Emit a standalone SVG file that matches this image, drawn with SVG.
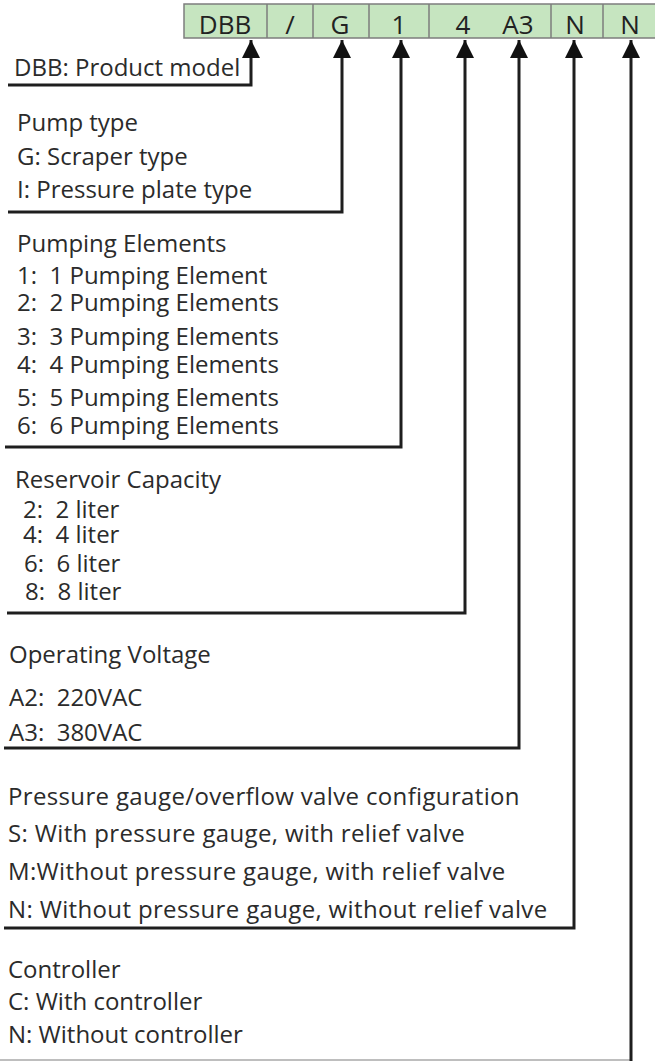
<svg xmlns="http://www.w3.org/2000/svg" width="655" height="1061" viewBox="0 0 655 1061">
<style>
.t{font-family:"Open Sans","Noto Sans","Liberation Sans",sans-serif;font-size:24px;fill:#2b2b2b}
.w{letter-spacing:0.35px}
.h{font-family:"Open Sans","Noto Sans","Liberation Sans",sans-serif;font-size:26px;fill:#222;text-anchor:middle}
.c{fill:none;stroke:#1e1e1e;stroke-width:3}
.cell{fill:#c6e5c0;stroke:#7d7d7d;stroke-width:1.5}
.dv{stroke:#7d7d7d;stroke-width:1.5}
</style>
<defs>
<marker id="ah" markerUnits="userSpaceOnUse" markerWidth="18" markerHeight="18" refX="16" refY="8" viewBox="0 0 16 16" orient="auto" overflow="visible">
<path d="M0,0 L16,8 L0,16 Z" fill="#111"/>
</marker>
</defs>
<g id="header">
<rect class="cell" x="184" y="4" width="480" height="34"/>
<line class="dv" x1="267" y1="4" x2="267" y2="38"/>
<line class="dv" x1="313" y1="4" x2="313" y2="38"/>
<line class="dv" x1="369" y1="4" x2="369" y2="38"/>
<line class="dv" x1="429" y1="4" x2="429" y2="38"/>
<line class="dv" x1="551" y1="4" x2="551" y2="38"/>
<line class="dv" x1="603" y1="4" x2="603" y2="38"/>
<text class="h" x="225" y="34">DBB</text>
<text class="h" x="290" y="34">/</text>
<text class="h" x="340" y="34">G</text>
<text class="h" x="399" y="34">1</text>
<text class="h" x="463" y="34">4</text>
<text class="h" x="518" y="34">A3</text>
<text class="h" x="575" y="34">N</text>
<text class="h" x="630" y="34">N</text>
</g>
<g id="model">
<text class="t" x="14" y="76">DBB: Product model</text>
</g>
<g id="pumptype">
<text class="t" x="17" y="131">Pump type</text>
<text class="t" x="17" y="165">G: Scraper type</text>
<text class="t" x="17" y="198">I: Pressure plate type</text>
</g>
<g id="elements">
<text class="t" x="17" y="252">Pumping Elements</text>
<text class="t" x="17" y="284" xml:space="preserve">1:  1 Pumping Element</text>
<text class="t" x="17" y="311" xml:space="preserve">2:  2 Pumping Elements</text>
<text class="t" x="17" y="345" xml:space="preserve">3:  3 Pumping Elements</text>
<text class="t" x="17" y="373" xml:space="preserve">4:  4 Pumping Elements</text>
<text class="t" x="17" y="406" xml:space="preserve">5:  5 Pumping Elements</text>
<text class="t" x="17" y="434" xml:space="preserve">6:  6 Pumping Elements</text>
</g>
<g id="reservoir">
<text class="t" x="15" y="488">Reservoir Capacity</text>
<text class="t" x="23" y="518" xml:space="preserve">2:  2 liter</text>
<text class="t" x="23" y="543" xml:space="preserve">4:  4 liter</text>
<text class="t" x="24" y="572" xml:space="preserve">6:  6 liter</text>
<text class="t" x="25" y="600" xml:space="preserve">8:  8 liter</text>
</g>
<g id="voltage">
<text class="t" x="9" y="663">Operating Voltage</text>
<text class="t" x="9" y="706" xml:space="preserve">A2:  220VAC</text>
<text class="t" x="9" y="741" xml:space="preserve">A3:  380VAC</text>
</g>
<g id="pressure">
<text class="t w" x="8" y="805">Pressure gauge/overflow valve configuration</text>
<text class="t w" x="8" y="842">S: With pressure gauge, with relief valve</text>
<text class="t w" x="8" y="880">M:Without pressure gauge, with relief valve</text>
<text class="t w" x="8" y="918">N: Without pressure gauge, without relief valve</text>
</g>
<g id="controller">
<text class="t" x="8" y="978">Controller</text>
<text class="t" x="8" y="1010">C: With controller</text>
<text class="t" x="8" y="1043">N: Without controller</text>
</g>
<g id="connectors">
<polyline class="c" points="8,85 251,85 251,40" marker-end="url(#ah)"/>
<polyline class="c" points="8,212 342,212 342,40" marker-end="url(#ah)"/>
<polyline class="c" points="5,447 401,447 401,40" marker-end="url(#ah)"/>
<polyline class="c" points="7,613 465,613 465,40" marker-end="url(#ah)"/>
<polyline class="c" points="4,748 519,748 519,40" marker-end="url(#ah)"/>
<polyline class="c" points="4,928 574,928 574,40" marker-end="url(#ah)"/>
<line x1="0" y1="1060" x2="631" y2="1060" stroke="#a8a8a8" stroke-width="1.5"/>
<polyline class="c" points="631,1061 631,40" marker-end="url(#ah)"/>
</g>
</svg>
